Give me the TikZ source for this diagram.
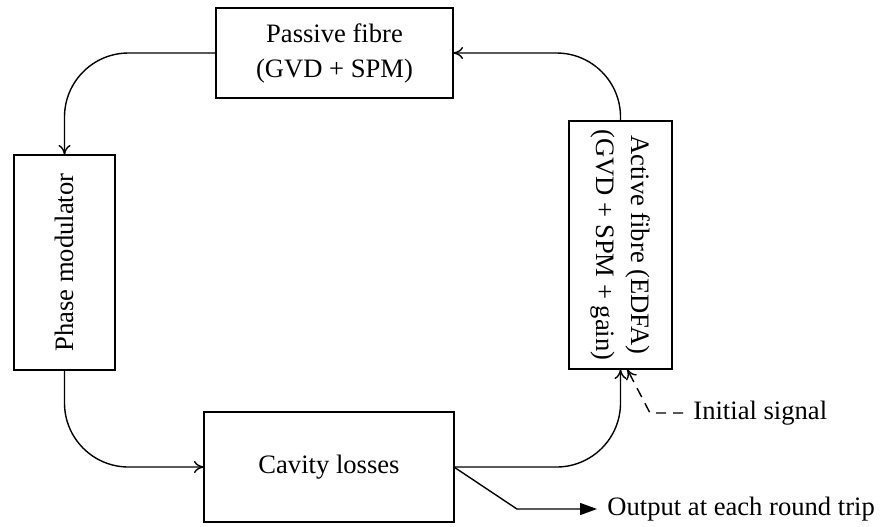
\documentclass[tikz,border=0pt]{standalone}
\usepackage{fontspec}
\setmainfont{Liberation Serif}
\usetikzlibrary{arrows.meta}
\begin{document}
\begin{tikzpicture}[x=0.5pt,y=-0.5pt,
  font=\fontsize{13.3}{17.5}\selectfont,
  blockbox/.style={draw, line width=0.8pt, inner sep=0pt, outer sep=0pt, align=center},
  flow/.style={line width=0.7pt, rounded corners=32pt, -{To[length=5pt,width=6pt]}},
  outflow/.style={line width=0.7pt, -{Triangle[length=8.5pt,width=6pt]}},
  initflow/.style={line width=0.7pt, dash pattern=on 5pt off 3.5pt, -{To[length=5pt,width=6pt]}},
  lbl/.style={anchor=west, inner sep=5pt}]
\useasboundingbox (0,0) rectangle (881,526);
\node[blockbox, minimum width=118.5pt, minimum height=45pt] (pas) at (334.5,53)
  {Passive fibre\\(GVD + SPM)};
\node[blockbox, minimum width=50.5pt, minimum height=107.5pt] (pm) at (64.5,262.5)
  {\rotatebox{90}{Phase modulator}};
\node[blockbox, minimum width=125pt, minimum height=55pt] (cav) at (329,467)
  {Cavity losses};
\node[blockbox, minimum width=51.5pt, minimum height=124pt] (act) at (620.5,245)
  {\rotatebox{-90}{\begin{tabular}{@{}c@{}}Active fibre (EDFA)\\(GVD + SPM + gain)\end{tabular}}};
\node[lbl] (out) at (597,509) {Output at each round trip};
\node[lbl] (init) at (683,413) {Initial signal};
\draw[flow] (act.north) |- (pas.east);
\draw[flow] (pas.west) -| (pm.north);
\draw[flow] (pm.south) |- (cav.west);
\draw[flow] (cav.east) -| (act.south);
\draw[outflow] (cav.east) -- ++(63,42) -- (out.west);
\draw[initflow] (init.west) -- ++(-33,0) -- ([xshift=3.3pt]act.south);
\end{tikzpicture}
\end{document}
